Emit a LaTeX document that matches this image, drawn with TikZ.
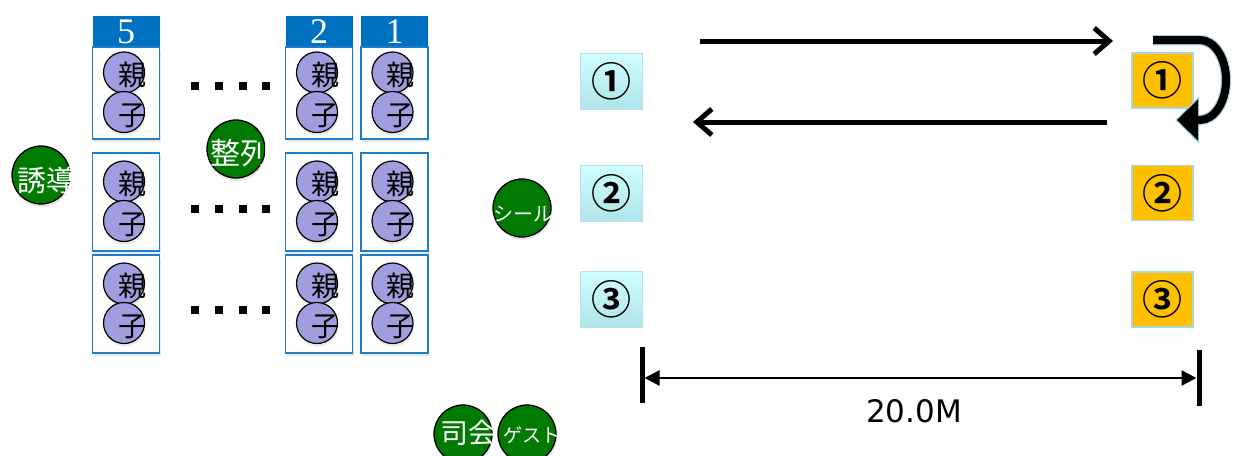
\documentclass[tikz,border=0pt]{standalone}
\usepackage{fontspec}
\newfontfamily\jp{Noto Sans CJK JP}
\newfontfamily\jpb{Noto Sans CJK JP Bold}
\newfontfamily\dv{DejaVu Sans}
\newfontfamily\tms{Liberation Serif}
\usetikzlibrary{arrows.meta,shadows}
\definecolor{hdr}{RGB}{0,112,192}
\definecolor{cellblue}{RGB}{30,125,200}
\definecolor{lav}{RGB}{160,158,222}
\definecolor{grn}{RGB}{0,122,0}
\definecolor{cytop}{RGB}{208,255,255}
\definecolor{cybot}{RGB}{176,228,232}
\definecolor{cyline}{RGB}{184,226,230}
\definecolor{org}{RGB}{255,192,0}
\definecolor{glow}{RGB}{170,215,220}
\tikzset{
  shd/.style={drop shadow={opacity=0.18,shadow xshift=1pt,shadow yshift=-3pt}},
  cellbox/.style={draw=cellblue, line width=1.4pt, minimum width=67pt, inner sep=0pt, fill=white, shd},
  hdrbox/.style={fill=hdr, minimum width=67pt, minimum height=32pt, inner sep=0pt, text=white, font=\tms\fontsize{36}{36}\selectfont},
  pcirc/.style={circle, draw=black, line width=1.2pt, fill=lav, minimum size=41pt, inner sep=0pt, shd},
  ptext/.style={font=\jp\fontsize{28}{28}\selectfont, inner sep=0pt},
  gcirc/.style={circle, draw=black, line width=1.3pt, fill=grn, minimum size=58pt, inner sep=0pt, shd},
  gtext/.style={text=white, inner sep=0pt},
  dotsq/.style={fill=black, minimum size=8pt, inner sep=0pt},
  cbox/.style={top color=cytop, bottom color=cybot, draw=cyline, line width=1pt, minimum width=62pt, minimum height=56pt, inner sep=0pt, font=\jpb\fontsize{40}{40}\selectfont},
  obox/.style={fill=org, draw=glow, line width=1.2pt, minimum width=61pt, minimum height=55pt, inner sep=0pt, font=\jpb\fontsize{40}{40}\selectfont},
}
\newcommand\pcell[4]{%
  \node[cellbox, minimum height=#4pt] (#1) at (#2,#3) {};
  \node[pcirc] (#1o) at ({#2-2},{#3-20.5}) {};
  \node[ptext] (#1ot) at ({#2+6},{#3-18}) {親};
  \node[pcirc] (#1k) at ({#2-2},{#3+19}) {};
  \node[ptext] (#1kt) at ({#2+6},{#3+23}) {子};
}
\begin{document}
\begin{tikzpicture}[x=1pt,y=-1pt]
\useasboundingbox (0,0) rectangle (1233,455);
% headers
\node[hdrbox] (h5) at (126,32) {5};
\node[hdrbox] (h2) at (319,32) {2};
\node[hdrbox] (h1) at (394.5,32) {1};
% cells
\pcell{a5}{126}{93}{92}
\pcell{a2}{319}{93}{92}
\pcell{a1}{394.5}{93}{92}
\pcell{b5}{126}{202}{98}
\pcell{b2}{319}{202}{98}
\pcell{b1}{394.5}{202}{98}
\pcell{c5}{126}{304}{98}
\pcell{c2}{319}{304}{98}
\pcell{c1}{394.5}{304}{98}
% dots
\foreach \r/\yy in {1/86,2/208.5,3/310}{
  \foreach \k/\xx in {1/194.5,2/219,3/243,4/266}{
    \node[dotsq] (d\r\k) at (\xx,\yy) {};
  }
}
% green circles
\node[gcirc] (yudo) at (41,175) {};
\node[gtext, font=\jp\fontsize{29}{29}\selectfont] (yudot) at (46,180) {誘導};
\node[gcirc] (seiretsu) at (236,149) {};
\node[gtext, font=\jp\fontsize{30}{30}\selectfont] (seiretsut) at (240,153) {整列};
\node[gcirc] (seal) at (522,208) {};
\node[gtext, font=\jp\fontsize{20}{20}\selectfont] (sealt) at (523,214) {シール};
\node[gcirc] (shikai) at (463,434) {};
\node[gtext, font=\jp\fontsize{28}{28}\selectfont] (shikait) at (468,433) {司会};
\node[gcirc] (guest) at (527,434) {};
\node[gtext, font=\jp\fontsize{19}{19}\selectfont] (guestt) at (532,435) {ゲスト};
% start / turn boxes
\node[cbox] (s1) at (611,81) {①};
\node[cbox] (s2) at (611,193) {②};
\node[cbox] (s3) at (611,299.5) {③};
\node[obox] (t1) at (1162.5,80.5) {①};
\node[obox] (t2) at (1162.5,193) {②};
\node[obox] (t3) at (1162.5,299.5) {③};
% run arrows
\coordinate (goA) at (700,41);
\coordinate (goB) at (1113,41);
\coordinate (backA) at (1107,122);
\coordinate (backB) at (693,122);
\draw[line width=5pt, -{Straight Barb[length=15pt,width=26pt]}] (goA) -- (goB);
\draw[line width=5pt, -{Straight Barb[length=15pt,width=26pt]}] (backA) -- (backB);
% U-turn
\coordinate (uA) at (1153,40);
\coordinate (uB) at (1200,40);
\coordinate (uE) at (1175,120);
\draw[line width=10.5pt, glow, -{Triangle[length=24pt,width=46pt]}] (uA) -- (uB) arc[start angle=90,end angle=-90,x radius=26pt,y radius=40pt] -- (uE);
\draw[line width=8pt, black, -{Triangle[length=21pt,width=40pt]}] (uA) -- (uB) arc[start angle=90,end angle=-90,x radius=26pt,y radius=40pt] -- ([xshift=2pt]uE);
% dimension
\coordinate (dl1) at (642,347);
\coordinate (dl2) at (642,403);
\coordinate (dr1) at (1199,350);
\coordinate (dr2) at (1199,406);
\draw[line width=5pt] (dl1) -- (dl2);
\draw[line width=5pt] (dr1) -- (dr2);
\coordinate (dA) at (644.5,378);
\coordinate (dB) at (1196.5,378);
\draw[line width=2.5pt, {Triangle[length=15pt,width=15pt]}-{Triangle[length=15pt,width=15pt]}] (dA) -- (dB);
\node[font=\dv\fontsize{31}{31}\selectfont, inner sep=0pt] (dist) at (914,411) {20.0M};
\end{tikzpicture}
\end{document}
